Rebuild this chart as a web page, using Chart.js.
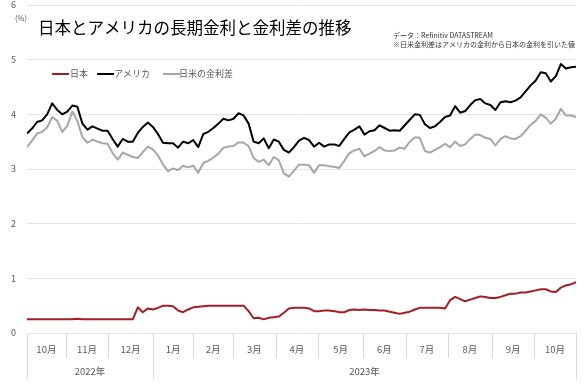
<!DOCTYPE html>
<html><head><meta charset="utf-8">
<script src="https://cdn.jsdelivr.net/npm/chart.js@4/dist/chart.umd.min.js"></script>
<style>html,body{margin:0;padding:0;background:#fff}#wrap{width:586px;height:386px;position:relative}</style>
</head><body><div id="wrap"><canvas id="c" width="586" height="386"></canvas></div>
<script>
const FONT = "'Noto Sans CJK JP', 'Noto Sans', sans-serif";

const seriesNames = ['日本', 'アメリカ', '日米の金利差'];

const japan = [
 0.25,0.25,0.25,0.25,0.25,0.25,0.25,0.25,0.25,0.25,0.26,0.25,0.25,0.25,0.25,0.25,0.25,0.25,0.25,0.25,0.25,0.25,
 0.47,0.38,0.45,0.43,0.46,0.50,0.50,0.49,0.41,0.38,0.43,0.47,0.48,0.49,
 0.50,0.50,0.50,0.50,0.50,0.50,0.50,0.50,
 0.40,0.27,0.28,0.25,0.28,0.29,0.30,0.37,0.45,0.46,0.46,0.46,0.45,0.40,0.40,0.41,0.41,0.40,0.38,0.38,
 0.42,0.43,0.42,0.43,0.42,0.42,0.41,0.41,0.39,0.37,0.35,0.37,0.39,0.43,0.46,0.46,0.46,0.46,0.46,0.45,
 0.60,0.66,0.62,0.58,0.61,0.64,0.67,0.66,0.64,0.64,0.66,0.69,0.72,0.72,0.74,0.74,0.76,0.78,0.80,0.80,
 0.76,0.75,0.83,0.87,0.89,0.93
];

const usa = [
 3.65,3.74,3.86,3.89,4.00,4.20,4.08,4.00,4.05,4.16,4.14,3.83,3.72,3.78,3.74,3.70,3.70,3.55,3.41,3.55,
 3.50,3.50,3.66,3.77,3.85,3.77,3.64,3.48,3.47,3.47,3.39,3.50,3.47,3.53,3.40,3.64,3.68,3.75,3.83,3.92,
 3.89,3.92,4.02,3.98,3.83,3.50,3.47,3.56,3.38,3.54,3.50,3.35,3.30,3.40,3.52,3.57,3.53,3.41,3.48,3.41,
 3.45,3.45,3.42,3.55,3.67,3.72,3.78,3.63,3.69,3.71,3.80,3.75,3.70,3.71,3.70,3.80,3.90,4.00,3.99,3.82,
 3.75,3.78,3.86,3.95,3.98,4.15,4.03,4.06,4.17,4.26,4.28,4.20,4.17,4.08,4.22,4.24,4.22,4.25,4.31,4.42,
 4.53,4.62,4.77,4.75,4.60,4.70,4.92,4.84,4.86,4.87
];

const spread = [
 3.40,3.52,3.65,3.68,3.76,3.95,3.88,3.68,3.79,4.05,3.88,3.58,3.48,3.54,3.50,3.47,3.46,3.29,3.17,3.30,
 3.26,3.22,3.20,3.31,3.41,3.36,3.25,3.08,2.96,3.01,2.98,3.06,3.03,3.06,2.93,3.11,3.15,3.21,3.28,3.39,
 3.41,3.42,3.49,3.48,3.42,3.20,3.13,3.17,3.07,3.22,3.16,2.92,2.86,2.97,3.08,3.08,3.07,2.93,3.07,3.07,
 3.05,3.04,3.02,3.15,3.29,3.34,3.37,3.23,3.28,3.33,3.40,3.34,3.33,3.34,3.39,3.37,3.50,3.58,3.57,3.33,
 3.30,3.35,3.40,3.46,3.40,3.50,3.42,3.45,3.55,3.63,3.62,3.57,3.55,3.43,3.55,3.60,3.56,3.55,3.60,3.70,
 3.81,3.88,4.00,3.94,3.83,3.92,4.10,3.98,3.98,3.95
];

const monthLabels = ['10月','11月','12月','1月','2月','3月','4月','5月','6月','7月','8月','9月','10月'];
const monthStarts = [0, 7.7, 16.1, 25, 33, 40.9, 49.4, 57.8, 66.7, 75.2, 83.6, 92.3, 100.7, 109];
const yearLabels = ['2022年','2023年'];
const yearStarts = [0, 25, 109];

const titleText = '日本とアメリカの長期金利と金利差の推移';
const sourceLines = ['データ：Refinitiv DATASTREAM', '※日米金利差はアメリカの金利から日本の金利を引いた値'];
const unitLabel = '(%)';

const toXY = arr => arr.map((v, i) => ({x: i, y: v}));

const decor = {
  id: 'decor',
  afterDraw(chart) {
    const {ctx, chartArea: a, scales: {x}} = chart;
    ctx.save();
    ctx.strokeStyle = '#d9d9d9';
    ctx.lineWidth = 1;
    monthStarts.forEach(m => {
      const px = Math.round(x.getPixelForValue(m)) + 0.5;
      const isYear = yearStarts.includes(m);
      ctx.beginPath();
      ctx.moveTo(px, a.bottom);
      ctx.lineTo(px, isYear ? a.bottom + 46 : a.bottom + 25);
      ctx.stroke();
    });
    ctx.fillStyle = '#595959';
    ctx.font = '9.5px ' + FONT;
    ctx.textAlign = 'center';
    ctx.textBaseline = 'middle';
    monthLabels.forEach((t, i) => {
      const cx = (x.getPixelForValue(monthStarts[i]) + x.getPixelForValue(monthStarts[i + 1])) / 2;
      ctx.fillText(t, cx, a.bottom + 16);
    });
    yearLabels.forEach((t, i) => {
      const cx = (x.getPixelForValue(yearStarts[i]) + x.getPixelForValue(yearStarts[i + 1])) / 2;
      ctx.fillText(t, cx, a.bottom + 38);
    });
    ctx.font = '7.5px ' + FONT;
    ctx.fillText(unitLabel, 21, 18);
    ctx.fillStyle = '#000';
    ctx.textAlign = 'left';
    ctx.font = '16.5px ' + FONT;
    ctx.fillText(titleText, 38, 28);
    ctx.fillStyle = '#333';
    ctx.font = '7px ' + FONT;
    ctx.fillText(sourceLines[0], 393, 35);
    ctx.fillText(sourceLines[1], 393, 44);
    const legendPos = [[52, 70], [97, 114], [163, 179]];
    ctx.font = '9px ' + FONT;
    ctx.fillStyle = '#595959';
    chart.data.datasets.forEach((ds, i) => {
      const [lx, tx] = legendPos[i];
      ctx.strokeStyle = ds.borderColor;
      ctx.lineWidth = 2;
      ctx.beginPath();
      ctx.moveTo(lx, 74);
      ctx.lineTo(lx + 17, 74);
      ctx.stroke();
      ctx.fillText(ds.label, tx, 74);
    });
    ctx.restore();
  }
};

new Chart(document.getElementById('c'), {
  type: 'line',
  data: {
    datasets: [
      {label: seriesNames[0], data: toXY(japan), borderColor: '#a31d24', borderWidth: 2, pointRadius: 0, order: 1},
      {label: seriesNames[1], data: toXY(usa), borderColor: '#000000', borderWidth: 2, pointRadius: 0, order: 2},
      {label: seriesNames[2], data: toXY(spread), borderColor: '#a6a6a6', borderWidth: 2, pointRadius: 0, order: 3}
    ]
  },
  options: {
    responsive: false,
    animation: false,
    devicePixelRatio: 1,
    layout: {padding: {top: 5, right: 10, bottom: 53, left: 0}},
    plugins: {legend: {display: false}, tooltip: {enabled: false}},
    elements: {line: {borderJoinStyle: 'round', tension: 0}},
    scales: {
      x: {type: 'linear', min: 0, max: 109, display: false},
      y: {
        min: 0, max: 6,
        ticks: {stepSize: 1, color: '#595959', font: {size: 9, family: FONT}, padding: 11},
        grid: {color: '#e3e3e3', drawTicks: false},
        border: {display: false},
        afterFit: s => { s.width = 27; s.paddingTop = 0; s.paddingBottom = 0; }
      }
    }
  },
  plugins: [decor]
});
</script>
</body></html>
